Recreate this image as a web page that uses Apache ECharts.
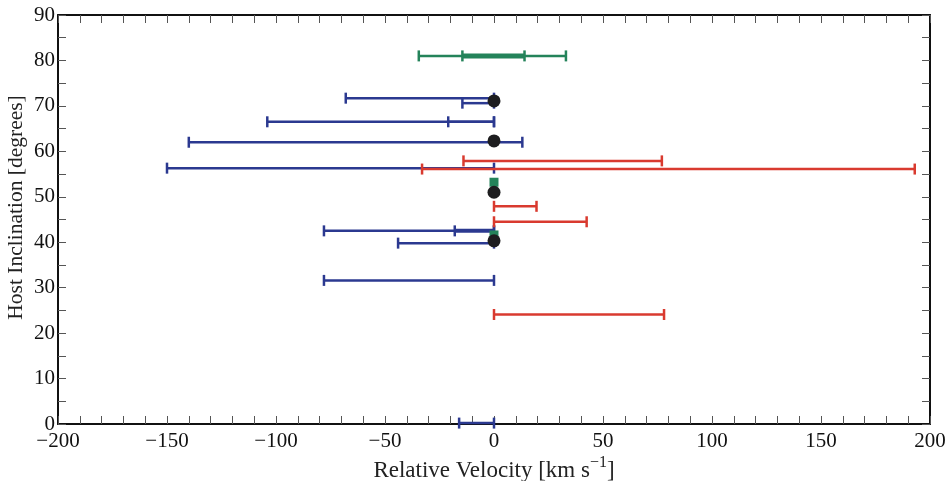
<!DOCTYPE html>
<html>
<head>
<meta charset="utf-8">
<script src="https://cdn.jsdelivr.net/npm/echarts@6/dist/echarts.min.js"></script>
<style>html,body{margin:0;padding:0;background:#fff}#c{width:949px;height:481px}</style>
</head>
<body>
<div id="c"></div>
<script>
// ---- data ----
const xTicks = [-200, -150, -100, -50, 0, 50, 100, 150, 200];
const yTicks = [0, 10, 20, 30, 40, 50, 60, 70, 80, 90];

// blue horizontal error bars: inclination, low velocity, high velocity
const blueIncl = [71.7, 70.6, 66.5, 66.5, 62.0, 56.3, 42.5, 39.8, 31.6, 0.2];
const blueLo   = [-68, -14.5, -104, -21, -140, -150, -78, -44, -78, -16];
const blueHi   = [0, 0, 0, 0, 13, 0, 0, 0, 0, 0];
// blue inner thick segment
const blueThickIncl = [42.5];
const blueThickLo = [-18];
const blueThickHi = [0];

// red error bars
const redIncl = [57.9, 56.1, 47.9, 44.5, 24.1];
const redLo   = [-14, -33, 0, 0, 0];
const redHi   = [77, 193, 19.5, 42.5, 78];

// green error bars (outer and inner)
const greenIncl = [81.0];
const greenLo = [-34.5];
const greenHi = [33];
const greenInnerIncl = [81.0];
const greenInnerLo = [-14.5];
const greenInnerHi = [14];

// point markers at zero velocity
const dotVel = [0, 0, 0, 0];
const dotIncl = [71.1, 62.3, 51.0, 40.3];
const sqVel = [0, 0];
const sqIncl = [53.2, 41.6];

// ---- chart ----
const BLUE = '#2b3990', RED = '#d93a2f', GREEN = '#24835a', BLACK = '#1d1d1f';

function errSeries(color, ys, lo, hi, w, cap) {
  return {
    type: 'custom',
    clip: false,
    data: ys.map((y, i) => [lo[i], hi[i], y]),
    encode: { x: [0, 1], y: 2 },
    renderItem: function (params, api) {
      const a = api.coord([api.value(0), api.value(2)]);
      const b = api.coord([api.value(1), api.value(2)]);
      const st = { stroke: color, lineWidth: w };
      const h = cap;
      return {
        type: 'group',
        children: [
          { type: 'line', shape: { x1: a[0], y1: a[1], x2: b[0], y2: b[1] }, style: st },
          { type: 'line', shape: { x1: a[0], y1: a[1] - h, x2: a[0], y2: a[1] + h }, style: { stroke: color, lineWidth: 2.5 } },
          { type: 'line', shape: { x1: b[0], y1: b[1] - h, x2: b[0], y2: b[1] + h }, style: { stroke: color, lineWidth: 2.5 } }
        ]
      };
    }
  };
}

const font = 'Liberation Serif';
const fmtX = v => (v < 0 ? '\u2212' + Math.abs(v) : String(v));
const tickStyle = { color: '#555', width: 1 };

const chart = echarts.init(document.getElementById('c'));
chart.setOption({
  animation: false,
  backgroundColor: '#fff',
  grid: { left: 58, right: 19, top: 15, bottom: 57, containLabel: false, outerBoundsMode: 'none' },
  xAxis: [{
    type: 'value', min: xTicks[0], max: xTicks[xTicks.length - 1], interval: 50,
    position: 'bottom',
    axisLine: { show: true, onZero: false, lineStyle: { color: '#111', width: 2 } },
    axisTick: { show: true, inside: true, length: 8, lineStyle: tickStyle },
    minorTick: { show: true, splitNumber: 5, length: 8, lineStyle: tickStyle },
    axisLabel: { formatter: fmtX, color: '#111', fontFamily: font, fontSize: 21, margin: 7 },
    splitLine: { show: false },
    name: 'Relative Velocity [km s{sup|\u22121}]',
    nameLocation: 'middle', nameGap: 31, nameMoveOverlap: false,
    nameTextStyle: {
      color: '#222', fontFamily: font, fontSize: 23,
      rich: { sup: { fontSize: 16, fontFamily: font, color: '#222', verticalAlign: 'top', padding: [0, 0, 16, 0] } }
    }
  }, {
    type: 'value', min: -200, max: 200, interval: 50, position: 'top',
    axisLine: { show: true, onZero: false, lineStyle: { color: '#111', width: 2 } },
    axisTick: { show: true, inside: true, length: 8, lineStyle: tickStyle },
    minorTick: { show: true, splitNumber: 5, length: 8, lineStyle: tickStyle },
    axisLabel: { show: false }, splitLine: { show: false }
  }],
  yAxis: [{
    type: 'value', min: yTicks[0], max: yTicks[yTicks.length - 1], interval: 10,
    position: 'left',
    axisLine: { show: true, onZero: false, lineStyle: { color: '#111', width: 2 } },
    axisTick: { show: true, inside: true, length: 8, lineStyle: tickStyle },
    minorTick: { show: true, splitNumber: 2, length: 8, lineStyle: tickStyle },
    axisLabel: { color: '#111', fontFamily: font, fontSize: 21, margin: 3 },
    splitLine: { show: false },
    name: 'Host Inclination [degrees]', nameLocation: 'middle', nameGap: 31, nameMoveOverlap: false,
    nameTextStyle: { color: '#222', fontFamily: font, fontSize: 21.5, padding: [0, 0, 0, 24] }
  }, {
    type: 'value', min: 0, max: 90, interval: 10, position: 'right',
    axisLine: { show: true, onZero: false, lineStyle: { color: '#111', width: 2 } },
    axisTick: { show: true, inside: true, length: 8, lineStyle: tickStyle },
    minorTick: { show: true, splitNumber: 2, length: 8, lineStyle: tickStyle },
    axisLabel: { show: false }, splitLine: { show: false }
  }],
  series: [
    errSeries(GREEN, greenIncl, greenLo, greenHi, 2.5, 5.5),
    errSeries(GREEN, greenInnerIncl, greenInnerLo, greenInnerHi, 5, 5.5),
    errSeries(BLUE, blueIncl, blueLo, blueHi, 2.5, 5.5),
    errSeries(BLUE, blueThickIncl, blueThickLo, blueThickHi, 4, 5.5),
    errSeries(RED, redIncl, redLo, redHi, 2.5, 5.5),
    {
      type: 'scatter', symbol: 'rect', symbolSize: 9, clip: false,
      itemStyle: { color: GREEN, opacity: 1 },
      data: sqVel.map((v, i) => [v, sqIncl[i]])
    },
    {
      type: 'scatter', symbol: 'circle', symbolSize: 13, clip: false,
      itemStyle: { color: BLACK, opacity: 1 },
      data: dotVel.map((v, i) => [v, dotIncl[i]])
    }
  ]
});
</script>
</body>
</html>
